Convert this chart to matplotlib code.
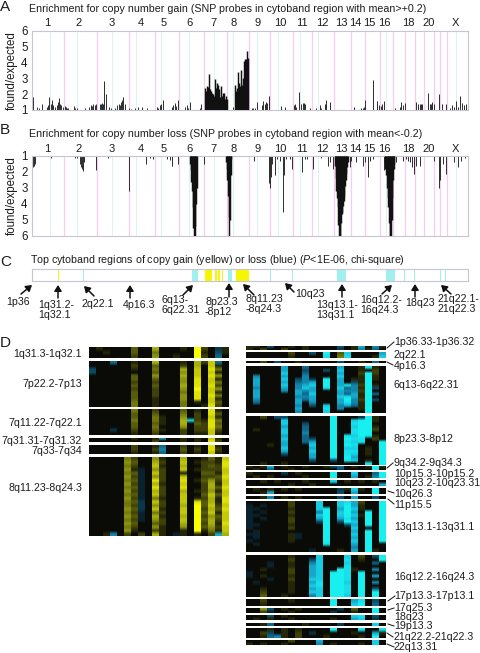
import numpy as np
import matplotlib
matplotlib.use("Agg")
import matplotlib.pyplot as plt
from matplotlib.colors import LinearSegmentedColormap

plt.rcParams['font.family'] = ['Liberation Sans', 'DejaVu Sans']
plt.rcParams['mathtext.fontset'] = 'custom'
plt.rcParams['mathtext.it'] = 'Liberation Sans:italic'
plt.rcParams['mathtext.rm'] = 'Liberation Sans'

TXT = '#1c1c1c'
FS = 7.7

# genome position runs from 95 to 1405 on the shared x axis
chrom_names = ['1', '2', '3', '4', '5', '6', '7', '8', '9', '10', '11', '12', '13', '14', '15', '16', '18', '20', 'X']
chrom_pos = [143, 235, 334, 423, 490, 569, 640, 700, 774, 842, 907, 968, 1025, 1068, 1110, 1155, 1227, 1288, 1367]
chrom_edges = [193, 291, 386, 464, 536, 612, 682, 746, 811, 879, 938, 1002, 1053, 1097, 1141, 1180, 1215, 1246, 1273, 1304, 1322, 1341]
centromeres = [150, 232, 335, 408, 484, 568, 643, 700, 770, 835, 900, 955, 1160, 1370]

gain_pos = [100, 112, 117, 127, 140, 144, 148, 152, 155, 158, 165, 170, 173, 176, 179, 183, 190, 195, 198, 202,
            205, 222, 226, 232, 255, 268, 272, 276, 280, 284, 288, 300, 303, 306, 309, 313, 317, 328, 332,
            345, 352, 356, 360, 364, 367, 370, 374, 388, 392, 405, 415, 427, 442,
            470, 475, 480, 483, 490, 515, 520, 524, 528, 535, 555, 560, 565, 570,
            600, 604, 700, 755, 760, 765, 770, 785, 790, 794, 798, 802, 806,
            845, 855, 882, 886, 890, 897, 905, 909, 913, 917, 930, 950, 960, 965, 975, 980, 990,
            1063, 1085, 1090, 1094, 1097, 1120, 1132, 1138, 1143, 1147, 1152, 1187, 1200, 1205, 1210, 1215,
            1250, 1256, 1260, 1264, 1268, 1285, 1290, 1294, 1298, 1303, 1318, 1328, 1340,
            1350, 1357, 1362, 1370, 1375, 1380, 1388, 1394, 1400]
gain_val = [1.8, 1.2, 1.1, 1.4, 1.2, 1.3, 1.8, 1.4, 1.65, 1.3, 1.2, 1.3, 1.5, 1.75, 1.4, 1.3, 1.2, 1.25, 1.2, 1.15,
            1.1, 1.25, 1.15, 1.15, 1.15, 1.2, 1.3, 1.25, 1.4, 1.3, 1.35, 1.4, 1.35, 1.45, 1.4, 2.8, 2.0, 1.2, 1.15,
            1.1, 1.3, 1.4, 1.3, 1.5, 1.6, 1.8, 1.4, 1.15, 1.05, 1.15, 1.2, 1.2, 1.1,
            1.2, 1.15, 1.3, 1.4, 1.6, 1.2, 1.3, 1.45, 1.25, 1.65, 1.2, 1.3, 1.15, 1.5,
            1.15, 1.4, 1.2, 1.1, 1.1, 1.15, 1.5, 1.3, 1.55, 1.4, 1.5, 1.45, 1.9,
            1.25, 1.2, 1.3, 1.35, 1.2, 2.15, 1.4, 1.45, 1.45, 1.4, 1.1, 1.15, 1.3, 1.15, 1.4, 1.65, 1.5,
            1.2, 1.1, 1.15, 1.2, 1.6, 2.9, 1.55, 1.3, 1.25, 1.35, 1.55, 1.1, 1.2, 1.5, 1.3, 1.45,
            1.5, 1.35, 1.4, 1.35, 1.4, 2.05, 1.35, 1.4, 1.5, 1.4, 2.0, 1.4, 1.35,
            1.15, 1.3, 1.2, 1.55, 1.2, 1.9, 1.45, 1.3, 1.4]
gain_peak_pos = [615, 618, 621, 624, 627, 630, 633, 636, 639, 642, 645, 648, 651, 654, 657, 660, 663, 666, 669, 672, 675, 678, 681,
                 705, 708, 711, 714, 717, 720, 723, 726, 729, 732, 735, 738, 741, 744]
gain_peak_val = [2.4, 2.2, 2.5, 2.45, 3.25, 2.3, 2.2, 2.1, 2.0, 1.9, 2.95, 2.4, 2.7, 2.6, 2.3, 1.8, 2.5, 1.9, 2.1, 2.05, 1.7, 1.9, 1.7,
                 2.6, 2.2, 2.4, 3.4, 2.7, 2.5, 3.5, 2.6, 3.0, 4.1, 4.2, 4.2, 4.7, 4.3]

loss_pos = [94, 97, 100, 103, 106, 154, 225, 232, 240, 243, 246, 248, 252, 288, 323, 388, 437, 450, 458,
            500, 510, 515, 535, 611, 763, 808, 811, 814, 818, 825, 832, 840, 850, 852, 860, 870, 878,
            907, 917, 923, 940, 963, 985, 991, 1000, 1050, 1055, 1068, 1090, 1097, 1105, 1110, 1120, 1152,
            1190, 1210, 1218, 1225, 1232, 1238, 1244, 1250, 1262, 1303, 1318, 1322, 1330, 1338, 1364, 1375, 1385, 1395]
loss_val = [3.5, 2.2, 1.7, 1.6, 1.5, 1.1, 1.1, 1.15, 1.5, 1.7, 1.8, 1.95, 1.4, 1.85, 1.1, 3.2, 1.5, 1.1, 1.2,
            1.2, 1.25, 1.65, 1.5, 1.5, 1.3, 2.7, 3.0, 2.3, 1.5, 2.2, 1.2, 1.3, 4.5, 2.2, 1.2, 1.2, 1.8,
            2.0, 1.2, 1.2, 1.8, 1.1, 1.6, 1.4, 1.8, 1.7, 1.3, 1.4, 1.6, 1.4, 2.3, 1.3, 1.2, 1.9,
            1.4, 1.3, 1.2, 1.3, 1.4, 1.7, 2.1, 1.6, 1.6, 1.3, 3.0, 2.5, 1.5, 2.15, 1.4, 1.7, 1.3, 1.1]
loss_peak_pos = [570, 572, 574, 576, 578, 580, 582, 584, 586, 588, 590,
                 678, 680, 682, 684, 686, 688, 690, 692, 694,
                 1005, 1008, 1010, 1012, 1014, 1016, 1018, 1020, 1022, 1024, 1026, 1028, 1030, 1032, 1034, 1036, 1038, 1040, 1042, 1045,
                 1155, 1157, 1160, 1162, 1164, 1166, 1168, 1170, 1172, 1174, 1176, 1178, 1180, 1182, 1184]
loss_peak_val = [1.5, 1.9, 2.6, 3.2, 4.2, 5.5, 6, 6, 5.4, 4, 3,
                 1.4, 1.8, 2.5, 3.5, 4.8, 6, 5, 2.2, 1.2,
                 1.6, 2.4, 3.2, 3.6, 4.2, 5.3, 6, 6, 6, 5.2, 4.6, 4.5, 4.1, 3.8, 3.5, 2.9, 2.5, 2.1, 1.7, 1.4,
                 1.4, 1.8, 2.2, 3, 3.6, 4.2, 5.2, 6, 6, 6, 5, 3.6, 2.5, 1.8, 1.5]

gain_regions = [(175, 178), (615, 635), (645, 650), (655, 660), (665, 670), (707, 748)]
loss_regions = [(95, 99), (249, 251), (389, 391), (575, 593), (683, 695), (810, 815), (852, 854), (877, 880),
                (1012, 1040), (1160, 1185), (1214, 1216), (1244, 1247), (1321, 1323), (1337, 1340)]

# heatmap cells: '.' none, 1-9 gain level, a-i loss level, one string per row, columns in fives
left_blocks = [
    ['.1... .3..6 ...1. 92.b1', '..1.. .3..4 ..... 91.c1', '..... .2..5 ..1.. 92.d.'],
    ['...d. .1..6 ...1. 627d.', '..... .2..3 ...2. 6.71.', 'c.... .1..4 ...6. 7.84.', 'c.... ....3 ...5. 7.71.',
     '..... .3..5 ...6. 7.85.', '..... .3..3 ...5. 8.71.', '..... .2..2 ...5. 8.74.', '..... .3..3 ...6. 8.82.',
     '..... .2..2 ...5. 9.75.', '..... .3..2 ...4. 8.71.', '..... .3..2 ...5. 8.84.', '..... .3..1 ...5. 8.71.',
     '..... .4..1 ...4. 1.73.', '..... .4..1 ...4. .182.'],
    ['..... .4..2 ...3. 1.81.', '..... .3..3 ...4. 2.83.', '..... .3..4 1..5. 2.71.', '..... .4..4 1..6g 2184.',
     '..... .3..3 1..6. 3283.', '..... .3..4 ...5. 2284.', '...b. .2..3 1..2. 2272.', '..... .1..2 ...2. 1171.'],
    ['..... .1..1 e..1. 1.71.', '..... ....2 ...1. 1.82.'],
    ['..... .2..1 d..2. 1.81.', '..... .2..2 e..3. 2.82.', '..... .1..1 d..2. 1.71.'],
    ['..... 42..5 1..6. .1317', '..... 53..6 2..7. 12218', '..... 42..7 1..6. .2328', '..... 51a.5 2..7. 12227',
     '..... 43a.7 2..1. .3317', '..... 52a.5 2..7. .2238', '..... 43a.8 2..8. 13527', '..... 52a.6 1..7. .2617',
     '..... 43a.8 2..8. .2638', '..... 52a.6 2..6. 12517', '..... 43a.7 2..7. .3737', '..... 52a.4 1..7. 12618',
     '..... 43b.7 2..7. 83618', '..... 42b.5 2..6. 93727', '..... 53b.7 1..7. 92638', '..... 42a.4 2..7. 93717',
     '..... 53a.6 1..6. 92537', '..... 42a.5 2..7. 93627', '..... 53..3 2..6. 92618', '..... 42..5 1..5. 93527',
     '..... 51..2 1..1. 91417', '..1e. 2.2.6 1.a1. 1.2f6'],
]
right_blocks = [
    ['11.c. .1.1. ...c. 1f.e1', '1.2.. 2..1. ...b. 1e1d.'],
    ['..... .2..c .i.3g ....f', '..... .1... .h.4h ...1g'],
    ['..2.c ..1.. ...c. .1.d.'],
    ['..... f..d. ...f. .1h1.', '..... f..c. .c.g. .1.2.', '..... g..d. ...f. .2i2.', '.e... f..e. ...g. .1i1.',
     '.f... g.ceb .i.f. 11i1.', '.f... f.def .i.f. c1i..', '.f... g.efg .i.fh e2i1.', '.e... f.egf .h.gd e1ic.',
     '.f... e.fef ...fe e2i..', '.f... ..fdg ...fd f1id.', '.f... ..eef ...gh f1i..', '.e... ..fdf ...fi e2ic.',
     '.d... ..f.e ...fh e1i..', '..... ..e.c .g.ef d1i..', '..... ..f.. .h.e. .1i..', '..... ..e.. .g... ..i..'],
    ['..2.c c.... ..i.. .bi1.', '..... g.... ..i.. gii1.', '..... g..c. ..i.. hii..', '..... f..d. ..i.. gii1.',
     '.1... g..d. ..i.. hii2.', '..... g..e. ..i.. hii..', '..... f..d. ..i.h gih1.', '..... g..dc ..i.i hh.2.',
     '..... f..df ..i.h gh..i', '...1. f...g ..i.i h...i', '..... g...f ..i.g g.1.i', '..... f...g ..i.h h.1.i',
     '..... c...f ..i.h g.1.i', '..... ....f ..i.i f...i', '..... ....c ..c.h g.1.i', '..1.. 1.... ..... ..h.i'],
    ['1.1f. 1..1. .1cd. 1.1i1', '.1.d. .1... ...c. ...i.'],
    ['1.... b.1.. ..i.. g..di', '.1.1. ...1. ..i.. f.1ei'],
    ['..1.1 ...1. ..g.1 .1.1.', '..... .1..1 ..... ....f'],
    ['.1.1. 1.1.. ...b1 g1.i.', '..1f. ..... ...c. f..i.'],
    ['..1e. 1.1.. ...c. f..c.'],
    ['..... .2... g..gh f2..i', 'a.a.. .2... g..gi f1..i', 'aa... .1... gi.fi g1..i', 'a.a.. .2... ei.gi f.i.i',
     'aa... .1... gi.gi g1i.i', 'a.a.. .2... fi.fh f.i.i', 'a.... .2... ci.ci g.i.i', 'aa... .1... .i..c f.i.i',
     'a.... .2... .i... g...i', '.a... ..... .i... f.i.i', 'aa... .1a.. .i... g.i.i', '.a... .1a.. .i... f.i.i',
     'a.... .1... .i... g.i.i', '.a... ..... .h... f.i..', '..... ..... ..... e.i..', '..... ....a ...1. f.i1.'],
    ['..... .1... g...g .2.ci', '..... .2..c g...h .1..i', '...a. .1..e g...g ...d.', '...a. .1..f g...h .....',
     '..1.. .2..f g..ih 1..e.', 'a.... .2..f g.iih .i...', 'a.1.. .1..f g.iih .i.f.', '...a. .2..g g.iih .i...',
     '.a... .1..f h.iig .i.e.', '..... .1..g h.iih .i...', '..1.. .1..f g.iih .i.d.', '..2.. .1..g g.iih .i.i.',
     '..3.. 1...e g.iig .i.i.'],
    ['..2.. .1... ..i.. fh.c.', '..1.. ..... ..i.. gi.d.'],
    ['..5c. 1.1.. ...b. 3..i.', '..2a. .1... ..b.. 1..i.'],
    ['...c. 1.... ..... gh.c.', '.1.1. .1... ..1.. fg.b.'],
    ['..1d. ...1. ...b. ...g.'],
    ['...1. 1.1.. ..i.. .h..h', '..2c. 1.2.b ..... 1..f1', '..1de 1.2.. .1... .1.i.'],
    ['..... .2... f.... ...g.', '1.1.. 1.... e.1.. .1.g.'],
]

left_spans = [(347, 358), (361, 407), (409, 435), (438, 442), (445, 454), (457, 536)]
right_spans = [(346, 350), (352, 358), (361, 363), (366, 413), (416, 465), (466, 470), (472, 478), (480, 486),
               (488, 494), (496, 499), (501, 552), (555, 597), (599, 606), (608, 613), (615, 620), (623, 626),
               (628, 638), (640, 645)]

left_labels = [('1q31.3-1q32.1', 354), ('7p22.2-7p13', 384), ('7q11.22-7q22.1', 423),
               ('7q31.31-7q31.32', 441), ('7q33-7q34', 451), ('8q11.23-8q24.3', 488)]
right_labels = [('1p36.33-1p36.32', 342), ('2q22.1', 355), ('4p16.3', 366), ('6q13-6q22.31', 385),
                ('8p23.3-8p12', 439), ('9q34.2-9q34.3', 463), ('10p15.3-10p15.2', 474), ('10q23.2-10q23.31', 483),
                ('10q26.3', 494), ('11p15.5', 505), ('13q13.1-13q31.1', 527), ('16q12.2-16q24.3', 577),
                ('17p13.3-17p13.1', 596), ('17q25.3', 608), ('18q23', 617), ('19p13.3', 626),
                ('21q22.2-21q22.3', 637), ('22q13.31', 647)]
leaders = [(387, 348, 394, 342), (387, 362, 393, 365), (387, 468, 393, 463), (388, 491, 394, 493), (388, 499, 394, 504),
           (388, 601, 395, 596), (388, 610, 394, 608), (388, 624, 394, 626), (387, 633, 393, 637), (387, 644, 394, 647)]

# label text, left edge, y, arrow tail x/y, arrow head x/y
c_labels = [('1p36', 6, 302, 21, 294, 32, 285), ('1q31.2-\n1q32.1', 38, 310, 58, 298, 58, 285),
            ('2q22.1', 81, 304, 94, 296, 84, 286), ('4p16.3', 123, 305, 130, 298, 130, 285),
            ('6q13-\n6q22.31', 161, 305, 183, 295, 193, 285), ('8p23.3\n-8p12', 205, 307, 229, 297, 229, 283),
            ('8q11.23\n-8q24.3', 246, 304, 254, 295, 243, 284), ('10q23', 295, 294, 294, 292, 285, 283),
            ('13q13.1-\n13q31.1', 316, 310, 342, 297, 342, 284), ('16q12.2-\n16q24.3', 360, 305, 382, 294, 392, 285),
            ('18q23', 405, 303, 415, 297, 415, 284), ('21q22.1-\n21q22.3', 437, 304, 451, 294, 441, 285)]

W, H = 480, 653
fig = plt.figure(figsize=(W / 100, H / 100), dpi=100)


def px_axes(l, t, r, b):
    return fig.add_axes([l / W, 1 - b / H, (r - l) / W, (b - t) / H])


def genome_axes(l, t, r, b):
    ax = px_axes(l, t, r, b)
    ax.set_xlim(95, 1405)
    ax.set_xticks([])
    for s in ax.spines.values():
        s.set_color('#c6c6d2')
        s.set_linewidth(0.8)
    return ax


def chrom_lines(ax):
    ax.vlines(chrom_edges, 0, 1, transform=ax.get_xaxis_transform(), color='#f6cdf0', lw=0.9, zorder=1)
    ax.vlines(centromeres, 0, 1, transform=ax.get_xaxis_transform(), color='#d9f3f3', lw=0.7, zorder=1)


def chrom_names_on(ax):
    for name, x in zip(chrom_names, chrom_pos):
        ax.text(x, 1.03, name, transform=ax.get_xaxis_transform(), ha='center', va='bottom', fontsize=8, color=TXT)


def y_style(ax):
    ax.set_yticks([1, 2, 3, 4, 5, 6])
    ax.tick_params(axis='y', length=0, pad=3, labelsize=8.3, labelcolor=TXT)
    ax.set_ylabel('found/expected', fontsize=8.3, color=TXT, labelpad=2)


ax_a = genome_axes(31.7, 30.7, 468, 110)
ax_a.set_ylim(1, 6)
chrom_lines(ax_a)
ax_a.vlines(gain_pos, 1, gain_val, color='#333333', lw=0.72, zorder=2)
ax_a.vlines(gain_peak_pos, 1, gain_peak_val, color='#111111', lw=1.05, zorder=3)
y_style(ax_a)
chrom_names_on(ax_a)

ax_b = genome_axes(31.7, 156, 468, 236)
ax_b.set_ylim(6, 1)
chrom_lines(ax_b)
ax_b.vlines(loss_pos, 1, loss_val, color='#333333', lw=0.72, zorder=2)
ax_b.vlines(loss_peak_pos, 1, loss_peak_val, color='#111111', lw=1.05, zorder=3)
y_style(ax_b)
chrom_names_on(ax_b)

ax_c = genome_axes(31.7, 269, 468, 281)
ax_c.set_ylim(0, 1)
ax_c.set_yticks([])
for a, b in gain_regions:
    ax_c.axvspan(a, b, color='#f6f600', lw=0)
for a, b in loss_regions:
    ax_c.axvspan(a, b, color='#9ff0ee', lw=0)

ov = fig.add_axes([0, 0, 1, 1], zorder=5)
ov.patch.set_alpha(0)
ov.axis('off')

heat_cmap = LinearSegmentedColormap.from_list('heat', [
    (0.0, '#18f0f0'), (0.1, '#18d4e8'), (0.2, '#1490b8'), (0.33, '#0c4c68'), (0.44, '#0a2430'), (0.5, '#0a0a06'),
    (0.6, '#3a3c08'), (0.78, '#8c9410'), (1.0, '#fcfc00')])
levels = {'.': 0}
levels.update({str(i): i for i in range(1, 10)})
levels.update({c: -(i + 1) for i, c in enumerate('abcdefghi')})


def draw_blocks(blocks, spans, x0, x1):
    for rows, (top, bottom) in zip(blocks, spans):
        cells = np.array([[levels[c] for c in r.replace(' ', '')] for r in rows], dtype=float)
        # repeat along x so the smoothing only softens the rows
        cells = np.repeat(cells, 7, axis=1)
        ov.imshow(cells, extent=(x0, x1, bottom, top), aspect='auto', cmap=heat_cmap, vmin=-9, vmax=9,
                  interpolation='bilinear')


draw_blocks(left_blocks, left_spans, 89.3, 229.3)
draw_blocks(right_blocks, right_spans, 245.7, 385.7)
ov.set_xlim(0, W)
ov.set_ylim(H, 0)

for name, y in left_labels:
    ov.text(82, y, name, ha='right', va='center', fontsize=FS, color=TXT)
for name, y in right_labels:
    ov.text(394, y, name, ha='left', va='center', fontsize=FS, color=TXT)
for x1, y1, x2, y2 in leaders:
    ov.plot([x1, x2], [y1, y2], color='#111111', lw=0.7)

for name, x, y, tx, ty, hx, hy in c_labels:
    ov.text(x, y, name, ha='left', va='center', fontsize=FS, color=TXT, linespacing=0.95)
    ov.annotate('', xy=(hx, hy), xytext=(tx, ty),
                arrowprops=dict(arrowstyle='-|>,head_length=0.35,head_width=0.22', color='#111111', lw=1.1,
                                shrinkA=0, shrinkB=0))

ov.text(0, 7, 'A', fontsize=11, ha='left', va='center', color=TXT)
ov.text(0, 130, 'B', fontsize=11, ha='left', va='center', color=TXT)
ov.text(0, 262, 'C', fontsize=11, ha='left', va='center', color=TXT)
ov.text(0, 343, 'D', fontsize=11, ha='left', va='center', color=TXT)
ov.text(29, 8.5, 'Enrichment for copy number gain (SNP probes in cytoband region with mean>+0.2)',
        fontsize=FS, va='center', color=TXT)
ov.text(29, 134, 'Enrichment for copy number loss (SNP probes in cytoband region with mean<-0.2)',
        fontsize=FS, va='center', color=TXT)
ov.text(30, 260, 'Top cytoband regions of copy gain (yellow) or loss (blue) ($\\mathit{P}$<1E-06, chi-square)',
        fontsize=FS, va='center', color=TXT)

fig.savefig('out.png', dpi=100)
